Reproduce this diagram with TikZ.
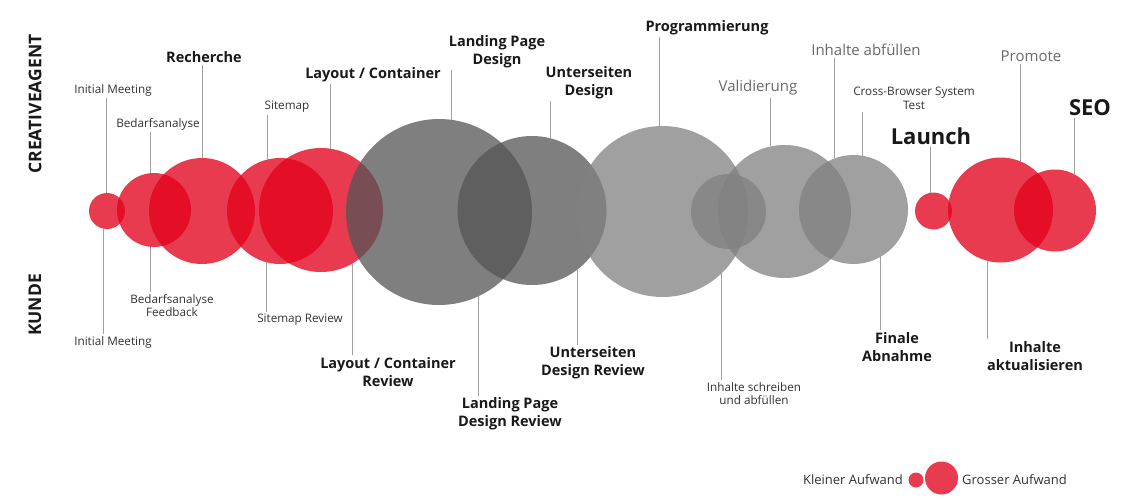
\documentclass[tikz,border=0pt]{standalone}
\usepackage{fontspec}
\setmainfont{Open Sans}
\usepackage{tikz}
\usetikzlibrary{
  shapes.geometric
  , calc
}

\definecolor{agRed}{RGB}{226,0,26}
\definecolor{darkGrey}{RGB}{84,84,84}
\definecolor{lightGrey}{RGB}{128,128,128}
\definecolor{stemGrey}{RGB}{160,160,160}
\definecolor{txtDark}{RGB}{25,25,25}
\definecolor{txtMid}{RGB}{50,50,50}
\definecolor{txtLight}{RGB}{105,105,105}

\begin{document}
\begin{tikzpicture}[x=1pt, y=-1pt]

      \tikzstyle{bubble template}=[circle, inner sep=0pt, outer sep=0pt, draw=none];
      \tikzstyle{red bubble}=[bubble template, fill=agRed, fill opacity=0.77];
      \tikzstyle{dark bubble}=[bubble template, fill=darkGrey, fill opacity=0.75];
      \tikzstyle{light bubble}=[bubble template, fill=lightGrey, fill opacity=0.75];
      \tikzstyle{stem line}=[draw=stemGrey, line width=0.9pt];
      \tikzstyle{small text}=[font=\fontsize{11.7}{13.5}\selectfont, text=txtMid, align=center, inner sep=2pt];
      \tikzstyle{light text}=[font=\fontsize{15}{18}\selectfont, text=txtLight, align=center, inner sep=2pt];
      \tikzstyle{task text}=[font=\fontsize{14.5}{18}\selectfont\bfseries, text=txtDark, align=center, inner sep=2pt];
      \tikzstyle{big text}=[font=\fontsize{22}{24}\selectfont\bfseries, text=txtDark, inner sep=2pt];
      \tikzstyle{side text}=[font=\fontsize{17.5}{20}\selectfont\bfseries, text=txtDark, rotate=90];

      \useasboundingbox (0,0) rectangle (1140,500);

      % lanes
      \node [side text] (agency) at (35,104) {CREATIVEAGENT};
      \node [side text] (client) at (35,305) {KUNDE};

      % bubbles, left to right
      \node [red bubble, minimum size=36] (c1) at (107,211) {};
      \node [red bubble, minimum size=74] (c2) at (154,210) {};
      \node [red bubble, minimum size=106] (c3) at (202,211) {};
      \node [red bubble, minimum size=106] (c4) at (280,211) {};
      \node [red bubble, minimum size=124] (c5) at (321,210) {};
      \node [dark bubble, minimum size=186] (c6) at (439,212) {};
      \node [dark bubble, minimum size=149] (c7) at (532,210.5) {};
      \node [light bubble, minimum size=171] (c8) at (662.5,211.5) {};
      \node [light bubble, minimum size=75] (c9) at (728.5,211.5) {};
      \node [light bubble, minimum size=133] (c10) at (784.5,211.5) {};
      \node [light bubble, minimum size=109] (c11) at (853.5,209.5) {};
      \node [red bubble, minimum size=37] (c12) at (933.5,211) {};
      \node [red bubble, minimum size=105] (c13) at (1000.5,210) {};
      \node [red bubble, minimum size=82] (c14) at (1055,210.5) {};

      % creativeagent tasks
      \node [small text] (imT) at (113,90) {Initial Meeting};
      \node [small text] (bedT) at (158,124) {Bedarfsanalyse};
      \node [task text] (recT) at (204,57) {Recherche};
      \node [small text] (siteT) at (287,107) {Sitemap};
      \node [task text] (layT) at (373,75) {Layout / Container};
      \node [task text] (landT) at (497,52) {Landing Page\\Design};
      \node [task text] (unterT) at (589,83) {Unterseiten\\Design};
      \node [task text] (progT) at (707,28) {Programmierung};
      \node [light text] (valT) at (758,88) {Validierung};
      \node [light text] (fillT) at (866,50) {Inhalte abfüllen};
      \node [small text] (crossT) at (914,98.5) {Cross-Browser System\\Test};
      \node [big text] (launchT) at (931,136) {Launch};
      \node [light text] (promT) at (1031,56) {Promote};
      \node [big text] (seoT) at (1090,108) {SEO};

      \draw [stem line] (c1.93 |- imT.south) -- (c1.93);
      \draw [stem line] (c2.95 |- bedT.south) -- (c2.95);
      \draw [stem line] (c3.90 |- recT.south) -- (c3.90);
      \draw [stem line] (c4.104 |- siteT.south) -- (c4.104);
      \draw [stem line] (c5.81 |- layT.south) -- (c5.81);
      \draw [stem line] (c6.82 |- landT.south) -- (c6.82);
      \draw [stem line] (c7.76 |- unterT.south) -- (c7.76);
      \draw [stem line] (c8.92 |- progT.south) -- (c8.92);
      \draw [stem line] (c10.102 |- valT.south) -- (c10.102);
      \draw [stem line] (c11.110 |- fillT.south) -- (c11.110);
      \draw [stem line] (c11.81 |- crossT.south) -- (c11.81);
      \draw [stem line] (c12.98 |- launchT.south) -- (c12.98);
      \draw [stem line] (c13.68 |- promT.south) -- (c13.68);
      \draw [stem line] (c14.62 |- seoT.south) -- (c14.62);

      % client tasks
      \node [small text] (imB) at (113,342) {Initial Meeting};
      \node [small text] (bedB) at (172,305.5) {Bedarfsanalyse\\Feedback};
      \node [small text] (siteB) at (300,320) {Sitemap Review};
      \node [task text] (layB) at (388,372) {Layout / Container\\Review};
      \node [task text] (landB) at (510,414) {Landing Page\\Design Review};
      \node [task text] (unterB) at (593,363) {Unterseiten\\Design Review};
      \node [small text] (writeB) at (754,393.5) {Inhalte schreiben\\und abfüllen};
      \node [task text] (finB) at (897,347) {Finale\\Abnahme};
      \node [task text] (updB) at (1035,356) {Inhalte\\aktualisieren};

      \draw [stem line] (c1.-103) -- (c1.-103 |- imB.north);
      \draw [stem line] (c2.-95) -- (c2.-95 |- bedB.north);
      \draw [stem line] (c4.-105) -- (c4.-105 |- siteB.north);
      \draw [stem line] (c5.-59) -- (c5.-59 |- layB.north);
      \draw [stem line] (c6.-65) -- (c6.-65 |- landB.north);
      \draw [stem line] (c7.-52) -- (c7.-52 |- unterB.north);
      \draw [stem line] (c9.-101.5) -- (c9.-101.5 |- writeB.north);
      \draw [stem line] (c11.-60) -- (c11.-60 |- finB.north);
      \draw [stem line] (c13.-104) -- (c13.-104 |- updB.north);

      % legend
      \node [red bubble, minimum size=15] (smallKey) at (916,480) {};
      \node [red bubble, minimum size=33] (bigKey) at (941.5,478) {};
      \node [small text, font=\fontsize{13}{15}\selectfont, anchor=east] (smallKeyT) at (905,480) {Kleiner Aufwand};
      \node [small text, font=\fontsize{13}{15}\selectfont, anchor=west] (bigKeyT) at (960,480) {Grosser Aufwand};

\end{tikzpicture}
\end{document}
